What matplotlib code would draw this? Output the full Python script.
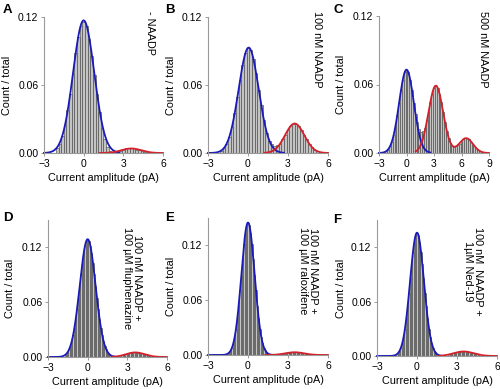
import numpy as np
import matplotlib
matplotlib.use("Agg")
import matplotlib.pyplot as plt

plt.rcParams['font.family'] = ['Liberation Sans', 'DejaVu Sans']

# histogram bars: (first bin centre, bin width, heights)
a_start, a_width = -2.0, 0.2
a_counts = [0.004, 0.008, 0.015, 0.025, 0.038, 0.052, 0.070, 0.088, 0.102, 0.112,
            0.116, 0.112, 0.101, 0.086, 0.069, 0.052, 0.036, 0.022, 0.012, 0.005,
            0.002, 0.001, 0.001, 0.002, 0.002, 0.003, 0.004, 0.004, 0.004, 0.004,
            0.003, 0.003, 0.002, 0.001, 0.001]

b_start, b_width = -2.0, 0.2
b_counts = [0.002, 0.004, 0.008, 0.014, 0.023, 0.035, 0.049, 0.064, 0.078, 0.088,
            0.093, 0.091, 0.083, 0.071, 0.056, 0.042, 0.029, 0.018, 0.011, 0.008,
            0.006, 0.007, 0.008, 0.012, 0.016, 0.020, 0.024, 0.026, 0.026, 0.024,
            0.020, 0.016, 0.012, 0.008, 0.005, 0.003, 0.002, 0.001, 0.001]

c_start, c_width = -2.2, 0.2
c_counts = [0.002, 0.003, 0.006, 0.010, 0.016, 0.024, 0.033, 0.044, 0.055, 0.064,
            0.071, 0.073, 0.071, 0.064, 0.055, 0.044, 0.034, 0.027, 0.021, 0.018,
            0.019, 0.022, 0.029, 0.036, 0.045, 0.052, 0.057, 0.059, 0.057, 0.052,
            0.045, 0.036, 0.027, 0.019, 0.013, 0.009, 0.0065, 0.0055, 0.006, 0.007,
            0.008, 0.010, 0.012, 0.013, 0.013, 0.012, 0.010, 0.008, 0.006, 0.004,
            0.003, 0.002, 0.001, 0.0005]

d_start, d_width = -1.7, 0.1
d_counts = [0.002, 0.004, 0.006, 0.0085, 0.012, 0.017, 0.024, 0.032, 0.042, 0.053,
            0.065, 0.078, 0.091, 0.103, 0.114, 0.122, 0.127, 0.129, 0.127, 0.122,
            0.114, 0.103, 0.091, 0.078, 0.065, 0.053, 0.042, 0.032, 0.024, 0.017,
            0.012, 0.0085, 0.006, 0.004, 0.002]
d_open_start = 2.5
d_open = [0.0015, 0.0018, 0.0022, 0.0026, 0.003, 0.0035, 0.0039, 0.0042, 0.0046, 0.0048,
          0.005, 0.005, 0.005, 0.0048, 0.0046, 0.0042, 0.0039, 0.0035, 0.003, 0.0026,
          0.0022, 0.0018, 0.0015]

e_start, e_width = -1.5, 0.1
e_counts = [0.0016, 0.003, 0.005, 0.008, 0.013, 0.020, 0.029, 0.040, 0.054, 0.071,
            0.088, 0.105, 0.121, 0.134, 0.142, 0.145, 0.142, 0.134, 0.121, 0.105,
            0.088, 0.071, 0.054, 0.040, 0.029, 0.020, 0.013, 0.008, 0.005, 0.003,
            0.0016]
e_open_start = 2.5
e_open = [0.0011, 0.0013, 0.0016, 0.0018, 0.0021, 0.0023, 0.0025, 0.0027, 0.0029, 0.003,
          0.003, 0.003, 0.0029, 0.0027, 0.0025, 0.0023, 0.0021, 0.0018, 0.0016, 0.0013,
          0.0011]

f_start, f_width = -1.5, 0.1
f_counts = [0.002, 0.004, 0.006, 0.009, 0.014, 0.021, 0.030, 0.042, 0.055, 0.070,
            0.086, 0.101, 0.115, 0.126, 0.134, 0.136, 0.134, 0.126, 0.115, 0.101,
            0.086, 0.070, 0.055, 0.042, 0.030, 0.021, 0.014, 0.009, 0.006, 0.004,
            0.002]
f_open_start = 2.4
f_open = [0.0017, 0.0021, 0.0024, 0.0028, 0.0032, 0.0036, 0.004, 0.0043, 0.0046, 0.0048,
          0.005, 0.005, 0.005, 0.0048, 0.0046, 0.0043, 0.004, 0.0036, 0.0032, 0.0028,
          0.0024, 0.0021, 0.0017]

# gaussian fits: (amplitude, mean, sigma), plus x range the curve is drawn on
a_closed, a_closed_rng = [(0.117, 0.0, 0.8)], (-3, 2.7)
a_opened, a_opened_rng = [(0.004, 3.6, 0.75)], (1.2, 6)
b_closed, b_closed_rng = [(0.093, 0.05, 0.75)], (-3, 2.7)
b_opened, b_opened_rng = [(0.026, 3.5, 0.72)], (1.2, 6)
c_closed, c_closed_rng = [(0.073, 0.0, 0.8)], (-3, 2.6)
c_opened, c_opened_rng = [(0.059, 3.2, 0.8), (0.013, 6.5, 0.75)], (1.0, 9)
d_closed, d_closed_rng = [(0.129, 0.0, 0.6)], (-3, 2.1)
d_opened, d_opened_rng = [(0.005, 3.6, 0.7)], (1.8, 6)
e_closed, e_closed_rng = [(0.145, 0.0, 0.5)], (-3, 1.9)
e_opened, e_opened_rng = [(0.003, 3.5, 0.7)], (1.3, 6)
f_closed, f_closed_rng = [(0.136, 0.0, 0.52)], (-3, 1.9)
f_opened, f_opened_rng = [(0.005, 3.5, 0.75)], (1.6, 6)

labels = ["- NAADP", "100 nM NAADP", "500 nM NAADP",
          "100 nM NAADP +\n100 µM fluphenazine",
          "100 nM NAADP +\n100 µM raloxifene",
          "100 nM  NAADP +\n1µM Ned-19"]
letters = ["A", "B", "C", "D", "E", "F"]

W, H = 500, 389
BLUE = "#1a1ab8"
RED = "#d3202a"


def fig_rect(x0, x1, ytop, ybot):
    return [x0 / W, 1 - ybot / H, (x1 - x0) / W, (ybot - ytop) / H]


def gauss(x, comps):
    y = np.zeros_like(x)
    for amp, mu, sd in comps:
        y += amp * np.exp(-(x - mu) ** 2 / (2 * sd ** 2))
    return y


panels = [
    # rect, xlim, xticks, ylim top, bar segments, closed fit, opened fit,
    # condition label x / top y, ylabel x, letter x / y  (all in pixels)
    (fig_rect(44, 163, 17, 153), (-3, 6), [-3, 0, 3, 6], 0.12,
     [(a_start, a_width, a_counts)], (a_closed, a_closed_rng), (a_opened, a_opened_rng),
     150, 11, 7, 3, 10),
    (fig_rect(208, 328, 17, 153), (-3, 6), [-3, 0, 3, 6], 0.12,
     [(b_start, b_width, b_counts)], (b_closed, b_closed_rng), (b_opened, b_opened_rng),
     317, 11, 171, 165, 10),
    (fig_rect(379, 489, 16, 153), (-3, 9), [-3, 0, 3, 6, 9], 0.12,
     [(c_start, c_width, c_counts)], (c_closed, c_closed_rng), (c_opened, c_opened_rng),
     483, 11, 341, 333, 10),
    (fig_rect(48, 167, 220, 357), (-3, 6), [-3, 0, 3, 6], 0.15,
     [(d_start, d_width, d_counts), (d_open_start, d_width, d_open)],
     (d_closed, d_closed_rng), (d_opened, d_opened_rng), 132, 227, 10, 3, 218),
    (fig_rect(208, 328, 218, 355), (-3, 6), [-3, 0, 3, 6], 0.15,
     [(e_start, e_width, e_counts), (e_open_start, e_width, e_open)],
     (e_closed, e_closed_rng), (e_opened, e_opened_rng), 308, 227, 171, 165, 218),
    (fig_rect(377, 497, 220, 356), (-3, 6), [-3, 0, 3, 6], 0.15,
     [(f_start, f_width, f_counts), (f_open_start, f_width, f_open)],
     (f_closed, f_closed_rng), (f_opened, f_opened_rng), 473, 227, 341, 333, 220),
]

fig = plt.figure(figsize=(5, 3.89), dpi=100)

for i, (rect, xlim, xticks, ytop, segs, closed, opened,
        lx, ly, ylx, ltx, lty) in enumerate(panels):
    ax = fig.add_axes(rect)
    for start, width, counts in segs:
        centres = start + width * np.arange(len(counts))
        ax.bar(centres, counts, width=width, color="#c4c4c4",
               edgecolor="#4a4a4a", linewidth=0.45)
    for (comps, rng), colour in ((closed, BLUE), (opened, RED)):
        xs = np.linspace(rng[0], rng[1], 300)
        ax.plot(xs, gauss(xs, comps), color=colour, lw=1.3, clip_on=False)
    ax.set_xlim(*xlim)
    ax.set_ylim(0, ytop)
    ax.set_xticks(xticks)
    ax.set_yticks([0, 0.06, 0.12])
    ax.set_yticklabels(["0.00", "0.06", "0.12"])
    for s in ["top", "right"]:
        ax.spines[s].set_visible(False)
    for s in ["left", "bottom"]:
        ax.spines[s].set_color("#9a9a9a")
        ax.spines[s].set_linewidth(0.8)
    ax.tick_params(labelsize=7.5, length=2.5, width=0.7, color="#9a9a9a", pad=1.5)
    ax.set_xlabel("Current amplitude (pA)", fontsize=7.8, labelpad=3)

    fig.text(ylx / W, rect[1] + rect[3] / 2, "Count / total", rotation=90,
             ha="center", va="center", fontsize=7.8)
    fig.text(lx / W, 1 - ly / H, labels[i], rotation=270, ha="center", va="top",
             fontsize=7.8, linespacing=1.0)
    fig.text(ltx / W, 1 - lty / H, letters[i], fontsize=9.5,
             fontweight="bold", ha="left", va="center")

fig.savefig("out.png", dpi=100)
